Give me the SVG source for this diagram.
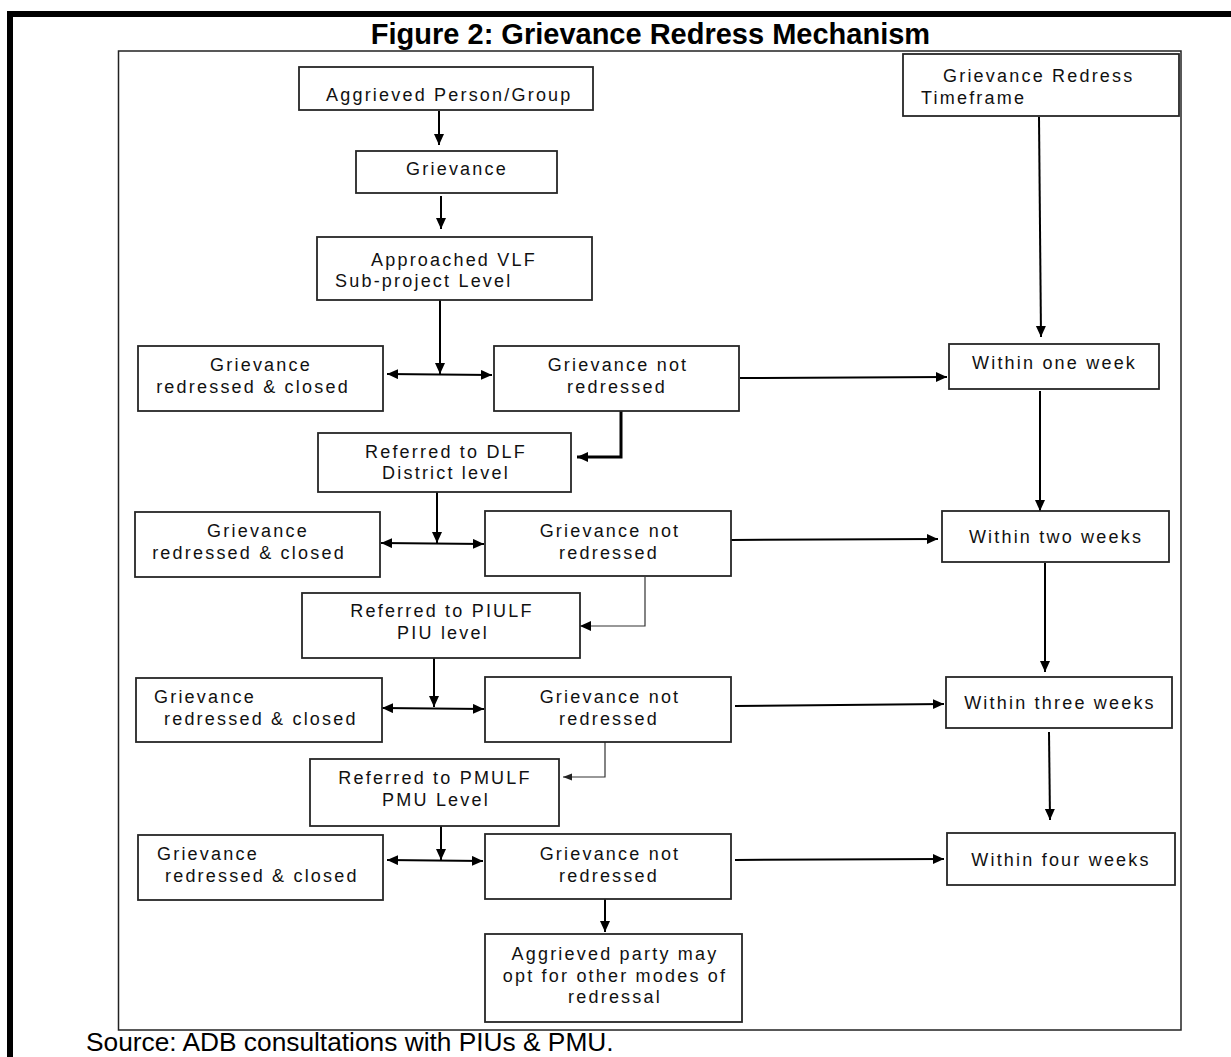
<svg xmlns="http://www.w3.org/2000/svg" width="1231" height="1057" viewBox="0 0 1231 1057">
<style>
  .box { fill: #fff; stroke: #262626; stroke-width: 1.8; }
  .t { font-family: "Liberation Sans", Arial, sans-serif; font-size: 18px; letter-spacing: 2.2px; fill: #111; }
  .m { text-anchor: middle; }
  .c { fill: none; stroke: #000; stroke-width: 2; }
  .thin { fill: none; stroke: #333; stroke-width: 1.2; }
  .thick { fill: none; stroke: #000; stroke-width: 3; }
</style>
<defs>
  <marker id="ah" markerUnits="userSpaceOnUse" markerWidth="12" markerHeight="12" refX="11" refY="5" orient="auto-start-reverse">
    <path d="M0,0 L11,5 L0,10 z" fill="#000"/>
  </marker>
  <marker id="ahs" markerUnits="userSpaceOnUse" markerWidth="10" markerHeight="10" refX="9" refY="3.5" orient="auto">
    <path d="M0,0 L9,3.5 L0,7 z" fill="#222"/>
  </marker>
</defs>
<rect width="1231" height="1057" fill="#fff"/>
<path d="M10,1057 V14 H1231" fill="none" stroke="#000" stroke-width="6"/>
<rect x="118.5" y="51" width="1062.5" height="979" fill="none" stroke="#222" stroke-width="1.5"/>
<text x="650.5" y="44" text-anchor="middle" font-family="Liberation Sans, Arial, sans-serif" font-size="29" font-weight="bold" fill="#000">Figure 2: Grievance Redress Mechanism</text>
<text x="86" y="1051" font-family="Liberation Sans, Arial, sans-serif" font-size="26.3" fill="#000">Source: ADB consultations with PIUs &amp; PMU.</text>

<g id="connectors">
  <path class="c" d="M439,111 V145" marker-end="url(#ah)"/>
  <path class="c" d="M441,196 V229" marker-end="url(#ah)"/>
  <path class="c" d="M440,300 V374" marker-end="url(#ah)"/>
  <path class="c" d="M387,374 L492,375" marker-start="url(#ah)" marker-end="url(#ah)"/>
  <path class="c" d="M740,378 L947,377" marker-end="url(#ah)"/>
  <path class="thick" d="M621,411 V457 H577" marker-end="url(#ah)"/>
  <path class="c" d="M1039,117 L1041,337" marker-end="url(#ah)"/>
  <path class="c" d="M437,492 V543" marker-end="url(#ah)"/>
  <path class="c" d="M381,543 L484,544" marker-start="url(#ah)" marker-end="url(#ah)"/>
  <path class="c" d="M731,540 L938,539" marker-end="url(#ah)"/>
  <path class="c" d="M1040,391 V511" marker-end="url(#ah)"/>
  <path class="thin" d="M645,577 V626 H580" marker-end="url(#ah)"/>
  <path class="c" d="M434,658 V707" marker-end="url(#ah)"/>
  <path class="c" d="M382,708 L484,709" marker-start="url(#ah)" marker-end="url(#ah)"/>
  <path class="c" d="M735,706 L944,704" marker-end="url(#ah)"/>
  <path class="c" d="M1045,563 V672" marker-end="url(#ah)"/>
  <path class="thin" d="M605,742 V777 H563" marker-end="url(#ahs)"/>
  <path class="c" d="M441,826 V860" marker-end="url(#ah)"/>
  <path class="c" d="M387,860 L483,861" marker-start="url(#ah)" marker-end="url(#ah)"/>
  <path class="c" d="M735,860 L944,859" marker-end="url(#ah)"/>
  <path class="c" d="M1049,732 L1050,820" marker-end="url(#ah)"/>
  <path class="c" d="M605,899 V932" marker-end="url(#ah)"/>
</g>

<g id="n-aggrieved">
  <rect class="box" x="299" y="67" width="294" height="43"/>
  <text class="t" x="326" y="101">Aggrieved Person/Group</text>
</g>
<g id="n-grievance">
  <rect class="box" x="356" y="151" width="201" height="42"/>
  <text class="t m" x="457" y="175">Grievance</text>
</g>
<g id="n-vlf">
  <rect class="box" x="317" y="237" width="275" height="63"/>
  <text class="t" x="371" y="266">Approached VLF</text>
  <text class="t" x="335" y="287">Sub-project Level</text>
</g>
<g id="n-timeframe">
  <rect class="box" x="903" y="54" width="276" height="62"/>
  <text class="t" x="943" y="82">Grievance Redress</text>
  <text class="t" x="921" y="104">Timeframe</text>
</g>

<g id="n-closed1">
  <rect class="box" x="138" y="346" width="245" height="65"/>
  <text class="t m" x="261" y="371">Grievance</text>
  <text class="t m" x="253" y="393">redressed &amp; closed</text>
</g>
<g id="n-not1">
  <rect class="box" x="494" y="346" width="245" height="65"/>
  <text class="t m" x="618" y="371">Grievance not</text>
  <text class="t m" x="617" y="393">redressed</text>
</g>
<g id="n-week1">
  <rect class="box" x="949" y="344" width="210" height="45"/>
  <text class="t" x="972" y="369">Within one week</text>
</g>
<g id="n-dlf">
  <rect class="box" x="318" y="433" width="253" height="59"/>
  <text class="t m" x="446" y="458">Referred to DLF</text>
  <text class="t m" x="446" y="479">District level</text>
</g>

<g id="n-closed2">
  <rect class="box" x="135" y="512" width="245" height="65"/>
  <text class="t m" x="258" y="537">Grievance</text>
  <text class="t m" x="249" y="559">redressed &amp; closed</text>
</g>
<g id="n-not2">
  <rect class="box" x="485" y="511" width="246" height="65"/>
  <text class="t m" x="610" y="537">Grievance not</text>
  <text class="t m" x="609" y="559">redressed</text>
</g>
<g id="n-week2">
  <rect class="box" x="942" y="511" width="227" height="51"/>
  <text class="t m" x="1056" y="543">Within two weeks</text>
</g>
<g id="n-piulf">
  <rect class="box" x="302" y="593" width="278" height="65"/>
  <text class="t m" x="442" y="617">Referred to PIULF</text>
  <text class="t m" x="443" y="639">PIU  level</text>
</g>

<g id="n-closed3">
  <rect class="box" x="136" y="678" width="246" height="64"/>
  <text class="t" x="154" y="703">Grievance</text>
  <text class="t" x="164" y="725">redressed &amp; closed</text>
</g>
<g id="n-not3">
  <rect class="box" x="485" y="677" width="246" height="65"/>
  <text class="t m" x="610" y="703">Grievance not</text>
  <text class="t m" x="609" y="725">redressed</text>
</g>
<g id="n-week3">
  <rect class="box" x="946" y="677" width="226" height="51"/>
  <text class="t m" x="1060" y="709">Within three weeks</text>
</g>
<g id="n-pmulf">
  <rect class="box" x="310" y="759" width="249" height="67"/>
  <text class="t m" x="435" y="784">Referred to PMULF</text>
  <text class="t m" x="436" y="806">PMU  Level</text>
</g>

<g id="n-closed4">
  <rect class="box" x="138" y="835" width="245" height="65"/>
  <text class="t" x="157" y="860">Grievance</text>
  <text class="t" x="165" y="882">redressed &amp; closed</text>
</g>
<g id="n-not4">
  <rect class="box" x="485" y="834" width="246" height="65"/>
  <text class="t m" x="610" y="860">Grievance not</text>
  <text class="t m" x="609" y="882">redressed</text>
</g>
<g id="n-week4">
  <rect class="box" x="947" y="833" width="228" height="52"/>
  <text class="t m" x="1061" y="866">Within four weeks</text>
</g>
<g id="n-other">
  <rect class="box" x="485" y="934" width="257" height="88"/>
  <text class="t m" x="615" y="960">Aggrieved party may</text>
  <text class="t m" x="615" y="982">opt for other modes of</text>
  <text class="t m" x="615" y="1003">redressal</text>
</g>
</svg>
